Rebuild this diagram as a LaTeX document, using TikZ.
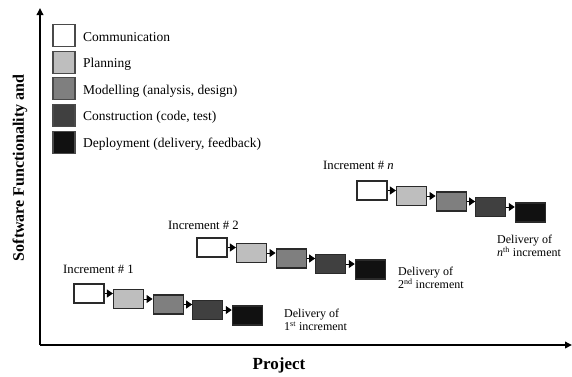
\documentclass[tikz,border=0pt]{standalone}
\usepackage{fontspec}
\setmainfont{Liberation Serif}
\usetikzlibrary{arrows.meta}
\definecolor{cA}{HTML}{FFFFFF}
\definecolor{cB}{HTML}{BEBEBE}
\definecolor{cC}{HTML}{7F7F7F}
\definecolor{cD}{HTML}{404040}
\definecolor{cE}{HTML}{111111}
\definecolor{edge}{HTML}{2A2A2A}
\newcommand\incrrow[3]{%
  \foreach \i/\c in {0/cA,1/cB,2/cC,3/cD,4/cE} {
    \node[incbox, fill=\c] (#1\i) at ({#2+39.6*\i+15}, {#3+5.5*\i+9.5}) {};
  }
  \foreach \i [evaluate=\i as \j using int(\i+1)] in {0,...,3} {
    \draw[conn] (#1\i.east) -- (#1\i.east -| #1\j.west);
  }%
}
\begin{document}
\begin{tikzpicture}[x=1pt,y=-1pt,
  incbox/.style={draw=edge, line width=1.3pt, minimum width=30pt, minimum height=19pt, inner sep=0pt},
  legbox/.style={draw=edge!85, line width=1.1pt, minimum width=22pt, minimum height=22pt, inner sep=0pt},
  legtext/.style={anchor=west, inner sep=0pt, font=\fontsize{13.5}{15}\selectfont},
  inctext/.style={anchor=west, inner sep=0pt, font=\fontsize{12.7}{14}\selectfont},
  deltext/.style={anchor=north west, inner sep=0pt, align=left, font=\fontsize{12}{13}\selectfont},
  conn/.style={line width=0.9pt, -{Triangle[length=6pt,width=8pt]}},
  axis/.style={line width=1.8pt, -{Triangle[length=7pt,width=6.5pt]}}]
\useasboundingbox (0,0) rectangle (572,376);
% axes
\coordinate (O) at (40,345);
\coordinate (Ytop) at (40,8);
\coordinate (Xend) at (572,345);
\draw[axis] (O) -- (Ytop);
\draw[axis] (O) -- (Xend);
\node[rotate=90, font=\bfseries\fontsize{16}{17}\selectfont, inner sep=0pt] (ylab) at (20,168) {Software Functionality and};
\node[font=\bfseries\fontsize{17}{18}\selectfont, inner sep=0pt] (xlab) at (279,365) {Project};
% legend
\foreach \k/\c/\t [count=\n from 0] in {a/cA/Communication, b/cB/Planning, c/cC/{Modelling (analysis, design)}, d/cD/{Construction (code, test)}, e/cE/{Deployment (delivery, feedback)}} {
  \node[legbox, fill=\c] (leg\k) at (64, {35.5+26.7*\n}) {};
  \node[legtext] (legt\k) at (83, {37.5+26.7*\n}) {\t};
}
% increments
\incrrow{p}{74}{284}
\incrrow{q}{197}{238}
\incrrow{r}{357}{181}
\node[inctext] (l1) at (63,269) {Increment \# 1};
\node[inctext] (l2) at (168,225) {Increment \# 2};
\node[inctext] (l3) at (323,165) {Increment \# \textit{n}};
\node[deltext] (d1) at (284,309) {Delivery of\\1\textsuperscript{st} increment};
\node[deltext] (d2) at (398,267) {Delivery of\\2\textsuperscript{nd} increment};
\node[deltext] (d3) at (497,235) {Delivery of\\\textit{n}\textsuperscript{th} increment};
\end{tikzpicture}
\end{document}
